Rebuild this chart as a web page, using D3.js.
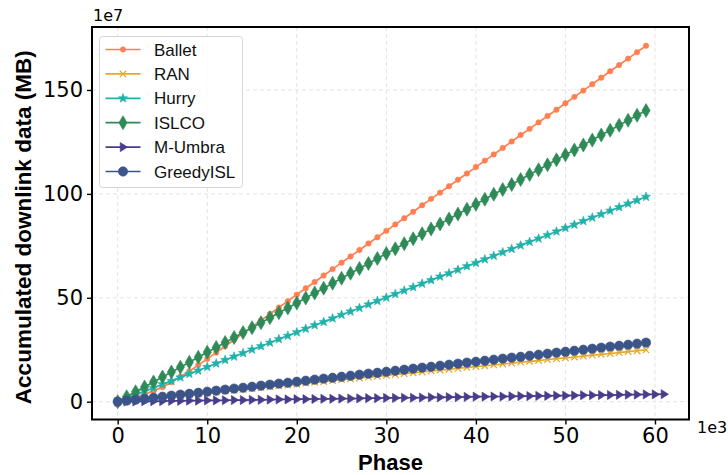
<!DOCTYPE html>
<html>
<head>
<meta charset="utf-8">
<script src="https://cdn.jsdelivr.net/npm/d3@7"></script>
<style>
  html, body { margin: 0; padding: 0; background: #ffffff; }
  svg { display: block; }
</style>
</head>
<body>
<svg id="chart" width="728" height="475"></svg>
<script>
// Phase (x 1e3) and accumulated downlink data (MB, x 1e7) for each scheme
const phase = [0,1,2,3,4,5,6,7,8,9,10,11,12,13,14,15,16,17,18,19,20,21,22,23,24,25,26,27,28,29,
  30,31,32,33,34,35,36,37,38,39,40,41,42,43,44,45,46,47,48,49,50,51,52,53,54,55,56,57,58,59];
const phaseUmbra = [0,1,2,3,4,5,6,7,8,9,10,11,12,13,14,15,16,17,18,19,20,21,22,23,24,25,26,27,28,29,
  30,31,32,33,34,35,36,37,38,39,40,41,42,43,44,45,46,47,48,49,50,51,52,53,54,55,56,57,58,59,60,61];

const ballet = [0,1.0,2.2,3.6,5.2,7.0,9.4,12.0,14.7,17.6,
  20.6,23.6,26.7,29.8,32.9,36.0,39.1,42.2,45.3,48.4,
  51.5,54.6,57.6,60.7,63.8,66.9,69.9,73.0,76.1,79.1,
  82.2,85.3,88.3,91.4,94.5,97.6,100.6,103.7,106.8,109.8,
  112.9,116.0,119.0,122.1,125.2,128.3,131.3,134.4,137.5,140.5,
  143.6,146.7,149.7,152.8,155.9,159.0,162.0,165.1,168.2,171.3];
const ran = [0,0.4,0.8,1.3,1.7,2.1,2.5,3.0,3.4,3.8,
  4.2,4.6,5.1,5.5,5.9,6.3,6.8,7.2,7.6,8.0,
  8.4,8.9,9.3,9.7,10.1,10.6,11.0,11.4,11.8,12.2,
  12.7,13.1,13.5,13.9,14.3,14.8,15.2,15.6,16.0,16.5,
  16.9,17.3,17.7,18.1,18.6,19.0,19.4,19.8,20.3,20.7,
  21.1,21.5,21.9,22.4,22.8,23.2,23.6,24.1,24.5,24.9];
const hurry = [0,1.7,3.3,5.0,6.7,8.4,10.0,11.7,13.4,15.0,
  16.7,18.4,20.1,21.7,23.4,25.1,26.7,28.4,30.1,31.7,
  33.4,35.1,36.8,38.4,40.1,41.8,43.4,45.1,46.8,48.5,
  50.1,51.8,53.5,55.1,56.8,58.5,60.2,61.8,63.5,65.2,
  66.8,68.5,70.2,71.9,73.5,75.2,76.9,78.5,80.2,81.9,
  83.6,85.2,86.9,88.6,90.2,91.9,93.6,95.3,96.9,98.6];
const islco = [0,2.4,4.8,7.1,9.5,11.9,14.3,16.6,19.0,21.4,
  23.8,26.1,28.5,30.9,33.3,35.6,38.0,40.4,42.8,45.1,
  47.5,49.9,52.3,54.6,57.0,59.4,61.8,64.1,66.5,68.9,
  71.3,73.6,76.0,78.4,80.8,83.1,85.5,87.9,90.3,92.6,
  95.0,97.4,99.8,102.1,104.5,106.9,109.3,111.6,114.0,116.4,
  118.8,121.1,123.5,125.9,128.3,130.6,133.0,135.4,137.8,140.1];
const mUmbra = [0,0.1,0.1,0.2,0.2,0.3,0.4,0.4,0.5,0.5,
  0.6,0.6,0.7,0.8,0.8,0.9,0.9,1.0,1.1,1.1,
  1.2,1.2,1.3,1.4,1.4,1.5,1.5,1.6,1.7,1.7,
  1.8,1.8,1.9,1.9,2.0,2.1,2.1,2.2,2.2,2.3,
  2.4,2.4,2.5,2.5,2.6,2.7,2.7,2.8,2.8,2.9,
  2.9,3.0,3.1,3.1,3.2,3.2,3.3,3.4,3.4,3.5,3.5,3.6];
const greedyISL = [0,0.5,1.0,1.4,1.9,2.4,2.9,3.4,3.8,4.3,
  4.8,5.3,5.8,6.3,6.7,7.2,7.7,8.2,8.7,9.1,
  9.6,10.1,10.6,11.1,11.5,12.0,12.5,13.0,13.5,13.9,
  14.4,14.9,15.4,15.9,16.4,16.8,17.3,17.8,18.3,18.8,
  19.2,19.7,20.2,20.7,21.2,21.6,22.1,22.6,23.1,23.6,
  24.0,24.5,25.0,25.5,26.0,26.5,26.9,27.4,27.9,28.4];

const xTicks = [0, 10, 20, 30, 40, 50, 60];
const yTicks = [0, 50, 100, 150];

const seriesNames = ["Ballet", "RAN", "Hurry", "ISLCO", "M-Umbra", "GreedyISL"];

// Styling for each series
const styles = {
  "Ballet":    { color: "#FF7F50", marker: "dot" },
  "RAN":       { color: "#E6A92F", marker: "x" },
  "Hurry":     { color: "#20B2AA", marker: "star" },
  "ISLCO":     { color: "#2E8B57", marker: "thinDiamond" },
  "M-Umbra":   { color: "#483D8B", marker: "triRight" },
  "GreedyISL": { color: "#3B5489", marker: "circle" }
};

const series = [
  { name: "Ballet", xs: phase, ys: ballet },
  { name: "RAN", xs: phase, ys: ran },
  { name: "Hurry", xs: phase, ys: hurry },
  { name: "ISLCO", xs: phase, ys: islco },
  { name: "M-Umbra", xs: phaseUmbra, ys: mUmbra },
  { name: "GreedyISL", xs: phase, ys: greedyISL }
];

const svg = d3.select("#chart");
const plot = { left: 92, right: 689, top: 27, bottom: 419.5 };

const x = d3.scaleLinear().domain([-2.87, 63.8]).range([plot.left, plot.right]);
const y = d3.scaleLinear().domain([-8.57, 180.3]).range([plot.bottom, plot.top]);

// Marker path generators, centered on (0,0)
function markerPath(type) {
  switch (type) {
    case "dot": {
      const r = 2.7;
      return `M${-r},0A${r},${r} 0 1,0 ${r},0A${r},${r} 0 1,0 ${-r},0Z`;
    }
    case "circle": {
      const r = 4.7;
      return `M${-r},0A${r},${r} 0 1,0 ${r},0A${r},${r} 0 1,0 ${-r},0Z`;
    }
    case "x": {
      const s = 3.2;
      return `M${-s},${-s}L${s},${s}M${-s},${s}L${s},${-s}`;
    }
    case "star": {
      const R = 4.8, r = R * 0.42;
      let p = "";
      for (let i = 0; i < 10; i++) {
        const a = -Math.PI / 2 + i * Math.PI / 5;
        const rr = i % 2 === 0 ? R : r;
        p += (i === 0 ? "M" : "L") + (rr * Math.cos(a)).toFixed(2) + "," + (rr * Math.sin(a)).toFixed(2);
      }
      return p + "Z";
    }
    case "thinDiamond": {
      const w = 4.1, h = 7.0;
      return `M0,${-h}L${w},0L0,${h}L${-w},0Z`;
    }
    case "triRight": {
      const s = 4.6;
      return `M${s},0L${-s * 0.6},${-s}L${-s * 0.6},${s}Z`;
    }
  }
}

function drawMarker(g, type, color, cx, cy) {
  const p = g.append("path")
    .attr("d", markerPath(type))
    .attr("transform", `translate(${cx},${cy})`);
  if (type === "x") {
    p.attr("fill", "none").attr("stroke", color).attr("stroke-width", 1.3);
  } else {
    p.attr("fill", color).attr("stroke", color).attr("stroke-width", 0.6);
  }
}

// Grid
const grid = svg.append("g");
grid.selectAll("line.vx").data(xTicks).join("line")
  .attr("x1", d => x(d)).attr("x2", d => x(d))
  .attr("y1", plot.top).attr("y2", plot.bottom)
  .attr("stroke", "#e3e3e3").attr("stroke-width", 1).attr("stroke-dasharray", "4,3");
grid.selectAll("line.hy").data(yTicks).join("line")
  .attr("y1", d => y(d)).attr("y2", d => y(d))
  .attr("x1", plot.left).attr("x2", plot.right)
  .attr("stroke", "#e3e3e3").attr("stroke-width", 1).attr("stroke-dasharray", "4,3");

// Lines and markers
const line = d3.line().x(d => x(d[0])).y(d => y(d[1]));
series.forEach(s => {
  const st = styles[s.name];
  const pts = s.xs.map((v, i) => [v, s.ys[i]]);
  const g = svg.append("g");
  g.append("path").datum(pts)
    .attr("d", line)
    .attr("fill", "none")
    .attr("stroke", st.color)
    .attr("stroke-width", 1.7);
  pts.forEach(p => drawMarker(g, st.marker, st.color, x(p[0]), y(p[1])));
});

// Axes
const xAxis = d3.axisBottom(x).tickValues(xTicks).tickSize(5).tickPadding(4).tickFormat(d3.format("d"));
const yAxis = d3.axisLeft(y).tickValues(yTicks).tickSize(5).tickPadding(4).tickFormat(d3.format("d"));

const gx = svg.append("g").attr("transform", `translate(0,${plot.bottom})`).call(xAxis);
const gy = svg.append("g").attr("transform", `translate(${plot.left},0)`).call(yAxis);
[gx, gy].forEach(g => {
  g.select(".domain").remove();
  g.selectAll(".tick line").attr("stroke", "#000").attr("stroke-width", 1.4);
  g.selectAll(".tick text")
    .attr("fill", "#000")
    .style("font-family", "'DejaVu Sans', sans-serif")
    .style("font-size", "21px");
});

// Frame
svg.append("rect")
  .attr("x", plot.left).attr("y", plot.top)
  .attr("width", plot.right - plot.left).attr("height", plot.bottom - plot.top)
  .attr("fill", "none").attr("stroke", "#000").attr("stroke-width", 2);

// Offset labels
svg.append("text").attr("x", plot.left + 1).attr("y", 21)
  .style("font-family", "'DejaVu Sans', sans-serif").style("font-size", "16px")
  .text("1e7");
svg.append("text").attr("x", 697).attr("y", 433)
  .style("font-family", "'DejaVu Sans', sans-serif").style("font-size", "16px")
  .text("1e3");

// Axis titles
svg.append("text")
  .attr("x", (plot.left + plot.right) / 2).attr("y", 470)
  .attr("text-anchor", "middle")
  .style("font-family", "'Liberation Sans', Arial, sans-serif")
  .style("font-weight", "bold").style("font-size", "22px")
  .text("Phase");
svg.append("text")
  .attr("transform", `translate(31,${(plot.top + plot.bottom) / 2 + 4}) rotate(-90)`)
  .attr("text-anchor", "middle")
  .style("font-family", "'Liberation Sans', Arial, sans-serif")
  .style("font-weight", "bold").style("font-size", "22.5px")
  .text("Accumulated downlink data (MB)");

// Legend
const legend = svg.append("g");
legend.append("rect")
  .attr("x", 99.5).attr("y", 36.5).attr("width", 143).attr("height", 151)
  .attr("rx", 3).attr("ry", 3)
  .attr("fill", "#ffffff").attr("fill-opacity", 0.85)
  .attr("stroke", "#d6d6d6").attr("stroke-width", 1);
seriesNames.forEach((name, i) => {
  const st = styles[name];
  const cy = 49.5 + i * 24.4;
  legend.append("line")
    .attr("x1", 105.5).attr("x2", 140.5).attr("y1", cy).attr("y2", cy)
    .attr("stroke", st.color).attr("stroke-width", 1.7);
  drawMarker(legend, st.marker, st.color, 123, cy);
  legend.append("text")
    .attr("x", 154).attr("y", cy + 6)
    .style("font-family", "'Liberation Sans', Arial, sans-serif")
    .style("font-size", "17px")
    .attr("fill", "#111")
    .text(name);
});
</script>
</body>
</html>
